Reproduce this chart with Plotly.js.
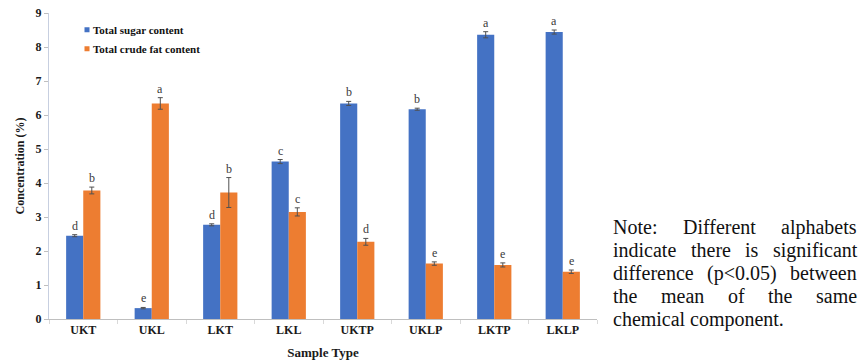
<!DOCTYPE html>
<html>
<head>
<meta charset="utf-8">
<script src="https://cdn.plot.ly/plotly-3.0.1.min.js"></script>
<style>
  html, body { margin: 0; padding: 0; background: #ffffff; }
  #chart { width: 861px; height: 362px; }
</style>
</head>
<body>
<div id="chart"></div>
<script>
// Sample types analysed
const sampleTypes = ["UKT", "UKL", "LKT", "LKL", "UKTP", "UKLP", "LKTP", "LKLP"];

// Total sugar content (%), mean and standard deviation
const sugarMean = [2.45, 0.32, 2.77, 4.63, 6.34, 6.17, 8.36, 8.44];
const sugarErr  = [0.03, 0.02, 0.03, 0.06, 0.06, 0.03, 0.09, 0.06];
const sugarLetters = ["d", "e", "d", "c", "b", "b", "a", "a"];

// Total crude fat content (%), mean and standard deviation
const fatMean = [3.78, 6.34, 3.72, 3.15, 2.27, 1.63, 1.59, 1.39];
const fatErr  = [0.10, 0.17, 0.44, 0.12, 0.10, 0.05, 0.06, 0.05];
const fatLetters = ["b", "a", "b", "c", "d", "e", "e", "e"];

// Side note, one entry per printed line
const noteLines = [
  "Note: Different alphabets",
  "indicate there is significant",
  "difference (p<0.05) between",
  "the mean of the same",
  "chemical component."
];

const SERIF = "Liberation Serif";
const BLUE = "#4472C4";
const ORANGE = "#ED7D31";

const W = 861, H = 362;
const M = { l: 49, r: 264, t: 13, b: 43 };
const plotW = W - M.l - M.r;
const plotH = H - M.t - M.b;

const BAR_W = 0.25;
const xIdx = sampleTypes.map((_, i) => i);

const errStyle = (arr) => ({
  type: "data", array: arr, visible: true,
  color: "#505050", thickness: 1, width: 2.5
});

const traces = [
  {
    type: "bar", name: "Total sugar content",
    x: sampleTypes, y: sugarMean,
    width: BAR_W, offset: -BAR_W,
    marker: { color: BLUE },
    error_y: errStyle(sugarErr),
    hoverinfo: "skip"
  },
  {
    type: "bar", name: "Total crude fat content",
    x: sampleTypes, y: fatMean,
    width: BAR_W, offset: 0,
    marker: { color: ORANGE },
    error_y: errStyle(fatErr),
    hoverinfo: "skip"
  }
];

// Significance letters sit just above each error bar
const annotations = [];
function addLetters(means, errs, letters, dx) {
  means.forEach((m, i) => {
    annotations.push({
      x: xIdx[i] + dx, y: m + errs[i], xref: "x", yref: "y",
      text: letters[i], showarrow: false,
      xanchor: "center", yanchor: "bottom", yshift: 0,
      font: { family: SERIF, size: 12, color: "#3a3a3a" }
    });
  });
}
addLetters(sugarMean, sugarErr, sugarLetters, -BAR_W / 2);
addLetters(fatMean, fatErr, fatLetters, BAR_W / 2);

// Justified note block to the right of the plot
const NOTE_FONT = 20;
const noteLeft = 613, noteRight = 857, noteTop = 227, noteStep = 23;
const ctx = document.createElement("canvas").getContext("2d");
ctx.font = NOTE_FONT + "px \"Liberation Serif\"";
const esc = (s) => s.replace(/&/g, "&amp;").replace(/</g, "&lt;").replace(/>/g, "&gt;");
noteLines.forEach((line, k) => {
  const words = line.split(" ");
  const widths = words.map(w => ctx.measureText(w).width);
  const total = widths.reduce((a, b) => a + b, 0);
  const last = k === noteLines.length - 1;
  const gap = (!last && words.length > 1)
    ? (noteRight - noteLeft - total) / (words.length - 1)
    : ctx.measureText(" ").width;
  let px = noteLeft;
  const py = noteTop + k * noteStep;
  words.forEach((w, j) => {
    annotations.push({
      xref: "paper", yref: "paper",
      x: (px - 2 - M.l) / plotW, y: (H - M.b - py) / plotH,
      xanchor: "left", yanchor: "middle",
      text: esc(w), showarrow: false,
      font: { family: SERIF, size: NOTE_FONT, color: "#111111" }
    });
    px += widths[j] + gap;
  });
});

const layout = {
  width: W, height: H,
  margin: M,
  paper_bgcolor: "#ffffff", plot_bgcolor: "#ffffff",
  font: { family: SERIF },
  barmode: "overlay",
  showlegend: true,
  legend: {
    x: (53 - M.l) / plotW, y: 0.993, xanchor: "left", yanchor: "top",
    bgcolor: "rgba(0,0,0,0)", borderwidth: 0,
    font: { family: SERIF, size: 11, color: "#111111", weight: "bold" },
    tracegroupgap: 0, itemclick: false, itemdoubleclick: false
  },
  xaxis: {
    type: "category",
    range: [-0.5, sampleTypes.length - 0.5],
    showline: true, linecolor: "#bfbfbf", linewidth: 1,
    ticks: "outside", tickson: "boundaries", ticklen: 4, tickcolor: "#d9d9d9",
    showgrid: false, zeroline: false,
    tickfont: { family: SERIF, size: 12, color: "#1a1a1a", weight: "bold" },
    title: { text: "Sample Type", standoff: 11,
             font: { family: SERIF, size: 13, color: "#1a1a1a", weight: "bold" } },
    automargin: false, fixedrange: true
  },
  yaxis: {
    range: [0, 9], dtick: 1, tick0: 0,
    showline: true, linecolor: "#c7cfe0", linewidth: 1,
    ticks: "outside", ticklen: 4, tickcolor: "#bfbfbf",
    showgrid: false, zeroline: false,
    tickfont: { family: SERIF, size: 12, color: "#1a1a1a", weight: "bold" },
    title: { text: "Concentration (%)", standoff: 8,
             font: { family: SERIF, size: 12, color: "#1a1a1a", weight: "bold" } },
    automargin: false, fixedrange: true
  },
  annotations: annotations
};

function shrinkSwatches() {
  // Smaller legend swatches placed close to their labels
  document.querySelectorAll("#chart .legend .legendpoints path").forEach(p => {
    p.setAttribute("d", "M2.5,2.5H-2.5V-2.5H2.5Z");
    p.setAttribute("transform", "translate(34,0)");
  });
}

Plotly.newPlot("chart", traces, layout, { staticPlot: true, displayModeBar: false }).then(() => {
  shrinkSwatches();
  setTimeout(shrinkSwatches, 50);
});
</script>
</body>
</html>
